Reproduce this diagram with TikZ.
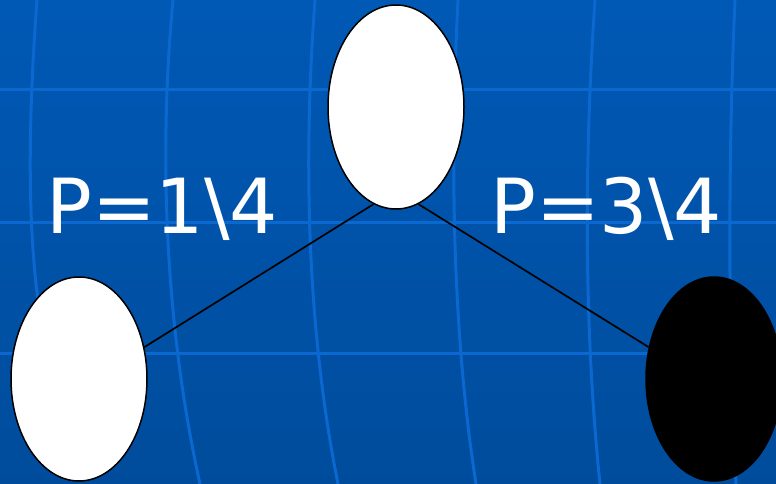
\documentclass[tikz,border=0pt]{standalone}
\usepackage{fontspec}
\setmainfont{DejaVu Sans}
\usetikzlibrary{shapes.geometric}
\definecolor{slidetop}{HTML}{0059B5}
\definecolor{slidebot}{HTML}{004C9C}
\definecolor{gridcol}{HTML}{0A68D0}
\tikzset{
  chance/.style={ellipse, draw=black, line width=1.5pt, inner sep=0pt,
    minimum width=136pt, minimum height=204pt},
  prob/.style={text=white, font=\fontsize{76}{84}\selectfont, inner sep=0pt, anchor=base west},
  gridline/.style={gridcol, line width=3pt}
}
\begin{document}
\begin{tikzpicture}[x=1pt, y=-1pt]
      \useasboundingbox (0,0) rectangle (776,484);
      \clip (0,0) rectangle (776,484);
      % slide background
      \shade[top color=slidetop, bottom color=slidebot] (0,0) rectangle (776,484);
      \foreach \yy in {90,222,353}
        \draw[gridline] (0,\yy) -- (776,\yy);
      \draw[gridline] (37,0) .. controls (26,150) and (28,260) .. (46,350);
      \draw[gridline] (173,0) .. controls (158,160) and (166,330) .. (200,484);
      \draw[gridline] (315,0) .. controls (303,160) and (307,330) .. (338,484);
      \draw[gridline] (458,0) .. controls (450,160) and (452,330) .. (476,484);
      \draw[gridline] (595,0) .. controls (584,160) and (584,330) .. (600,484);
      \draw[gridline] (735,0) .. controls (728,160) and (728,330) .. (736,484);
      % tree
      \node[chance, fill=white] (root) at (396,107) {};
      \node[chance, fill=white] (left) at (79,379) {};
      \node[chance, fill=black] (right) at (714,379) {};
      \draw[line width=1.7pt] (root.-103) -- (left.26);
      \draw[line width=1.7pt] (root.-77) -- (right.154);
      \node[prob] (pl) at (46,233) {P=1\textbackslash 4};
      \node[prob] (pr) at (490,233) {P=3\textbackslash 4};
\end{tikzpicture}
\end{document}
